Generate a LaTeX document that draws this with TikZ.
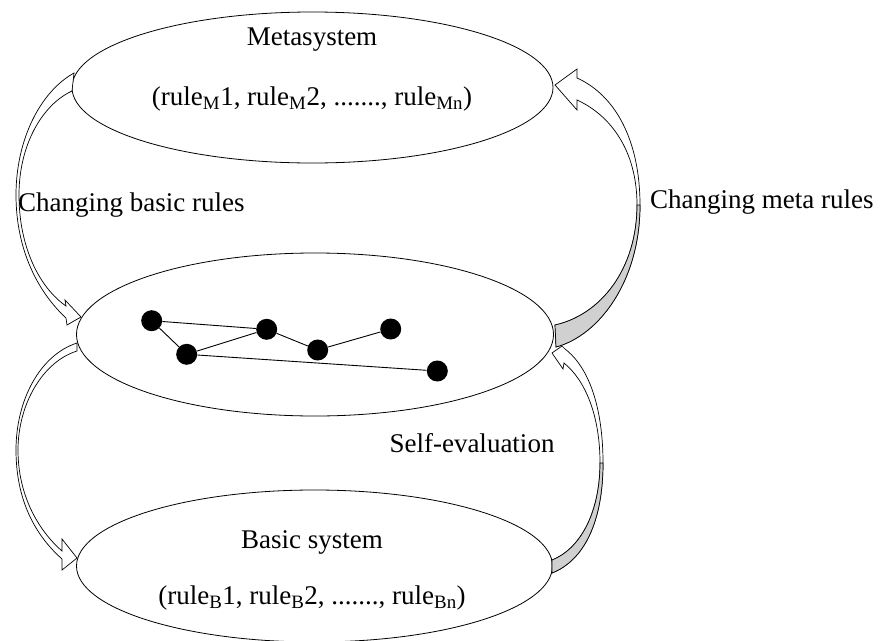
\documentclass[tikz,border=0pt]{standalone}
\usepackage{fontspec}
\setmainfont{Liberation Serif}
\usetikzlibrary{shapes.geometric}
\definecolor{bandgray}{RGB}{208,208,208}
\begin{document}
\begin{tikzpicture}[x=1pt,y=-1pt,
  every node/.style={font=\fontsize{27}{31}\selectfont},
  sys/.style={draw, ellipse, line width=0.8pt, inner sep=0pt},
  dot/.style={circle, fill=black, minimum size=21pt, inner sep=0pt},
  link/.style={line width=0.9pt},
  band/.style={draw, fill=white, line width=0.7pt, line join=miter},
  back/.style={draw, fill=bandgray, line width=0.7pt},
  lbl/.style={inner sep=0pt}]
\useasboundingbox (0,0) rectangle (891,640);
% systems
\node[sys, minimum width=481pt, minimum height=151pt] (meta) at (312.5,87.5) {};
\node[sys, minimum width=477pt, minimum height=163pt] (mid) at (315,334.5) {};
\node[sys, minimum width=476pt, minimum height=152pt] (basic) at (314.5,566) {};
% arrows
\draw[band] (74,73) .. controls (40,92) and (16,140) .. (16,195)
  .. controls (16,250) and (38,292) .. (66,318) -- (67,325) -- (81,317) -- (65,300) -- (66,306)
  .. controls (40,288) and (19,248) .. (19,195)
  .. controls (19,145) and (42,105) .. (72,91) -- cycle;
\draw[band] (77,343) .. controls (40,355) and (16,400) .. (16,450)
  .. controls (16,500) and (35,535) .. (62,559) -- (62,570) -- (77,558) -- (62,539) -- (62,551)
  .. controls (38,530) and (18,495) .. (18,450)
  .. controls (18,405) and (42,362) .. (77,351) -- cycle;
\draw[band] (555,325) -- (556,347) .. controls (600,335) and (640,280) .. (640,205)
  .. controls (640,140) and (615,95) .. (577,78) -- (577,69) -- (555,85) -- (577,110) -- (577,100)
  .. controls (610,115) and (637,150) .. (637,205)
  .. controls (637,270) and (600,315) .. (555,325) -- cycle;
\draw[back] (556,347) .. controls (600,335) and (640,280) .. (640,205) -- (637,205)
  .. controls (637,270) and (600,315) .. (555,325) -- cycle;
\draw[band] (552,560) -- (552,573) .. controls (585,560) and (603,520) .. (603,463)
  .. controls (603,410) and (590,368) .. (565,349) -- (562,346) -- (552,353) -- (563,369) -- (564,363)
  .. controls (585,380) and (600,415) .. (600,463)
  .. controls (600,510) and (582,548) .. (552,560) -- cycle;
\draw[back] (552,573) .. controls (585,560) and (603,520) .. (603,463) -- (600,463)
  .. controls (600,510) and (582,548) .. (552,560) -- cycle;
% dots
\node[dot] (d1) at (151.7,320.7) {};
\node[dot] (d2) at (186.7,354.3) {};
\node[dot] (d3) at (266.7,329.3) {};
\node[dot] (d4) at (317.7,350) {};
\node[dot] (d5) at (390.7,329) {};
\node[dot] (d6) at (437.3,371) {};
\draw[link] (d1) -- (d3);
\draw[link] (d1) -- (d2);
\draw[link] (d2) -- (d3);
\draw[link] (d3) -- (d4);
\draw[link] (d4) -- (d5);
\draw[link] (d2) -- (d6);
% labels
\node[lbl] (metaT) at (312,40) {Metasystem};
\node[lbl] (metaR) at (312,99) {(rule\textsubscript{M}1, rule\textsubscript{M}2, ......., rule\textsubscript{Mn})};
\node[lbl, anchor=west] (cbr) at (18,205) {Changing basic rules};
\node[lbl, anchor=west] (cmr) at (650,202) {Changing meta rules};
\node[lbl] (se) at (472,443) {Self-evaluation};
\node[lbl] (bsT) at (312,542) {Basic system};
\node[lbl] (bsR) at (312,598) {(rule\textsubscript{B}1, rule\textsubscript{B}2, ......., rule\textsubscript{Bn})};
\end{tikzpicture}
\end{document}
